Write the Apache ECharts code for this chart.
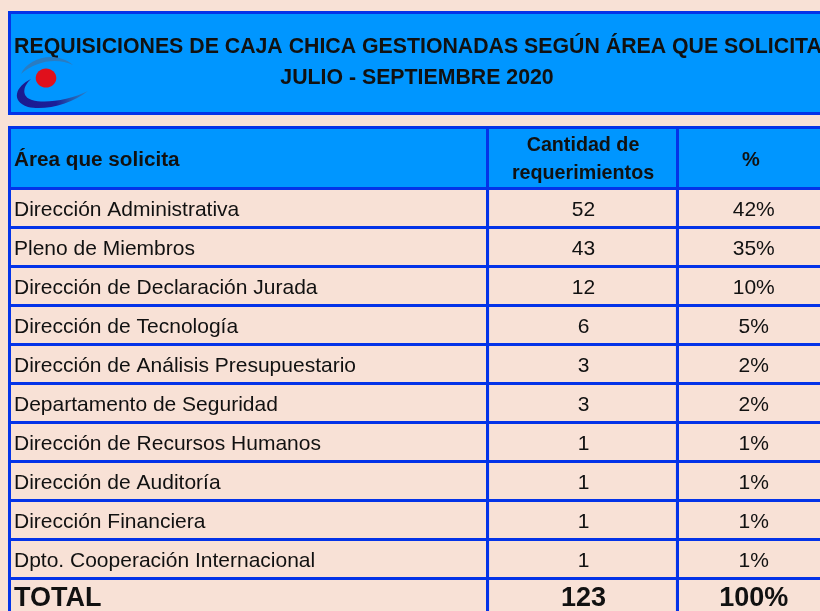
<!DOCTYPE html>
<html>
<head>
<meta charset="utf-8">
<script src="https://cdn.jsdelivr.net/npm/echarts@6/dist/echarts.min.js"></script>
<style>html,body{margin:0;padding:0;background:#F8E1D6;overflow:hidden;width:820px;height:611px;}#c{width:832px;height:626px;}</style>
</head>
<body>
<div id="c"></div>
<script>
// ---- data ----
const titleLines = ['REQUISICIONES DE CAJA CHICA GESTIONADAS SEGÚN ÁREA QUE SOLICITA', 'JULIO - SEPTIEMBRE 2020'];
const headers = ['Área que solicita', 'Cantidad de\nrequerimientos', '%'];
const areas = ['Dirección Administrativa', 'Pleno de Miembros', 'Dirección de Declaración Jurada', 'Dirección de Tecnología', 'Dirección de Análisis Presupuestario', 'Departamento de Seguridad', 'Dirección de Recursos Humanos', 'Dirección de Auditoría', 'Dirección Financiera', 'Dpto. Cooperación Internacional'];
const cantidad = [52, 43, 12, 6, 3, 3, 1, 1, 1, 1];
const porcentaje = [42, 35, 10, 5, 2, 2, 1, 1, 1, 1];
const totalLabel = 'TOTAL';
const totalCantidad = 123;
const totalPorcentaje = 100;

// ---- styles / layout ----
const BG = '#F8E1D6', FILL = '#0096FF', BORDER = '#0433E8', INK = '#111111';
const FONT = 'Liberation Sans';
const colEdges = [0, 58.69, 82.01, 100];

const rows = areas.concat([totalLabel]);
const countTxt = cantidad.map(String).concat([String(totalCantidad)]);
const pctTxt = porcentaje.map(v => v + '%').concat([totalPorcentaje + '%']);

const chart = echarts.init(document.getElementById('c'), null, {renderer: 'canvas'});

function txt(text, x, y, size, weight, align) {
  return {type: 'text', style: {text: text, x: x, y: y, fill: INK, fontFamily: FONT, fontSize: size, fontWeight: weight, textAlign: align, textVerticalAlign: 'middle'}};
}

function renderTable(params, api) {
  const i = params.dataIndex;
  const isTotal = i === rows.length - 1;
  const c = api.coord([0, i]);
  const h = api.size([0, 1])[1];
  const yTop = c[1] - h / 2;
  const xs = colEdges.map(e => api.coord([e, i])[0]);
  const children = [];
  for (let k = 0; k < 3; k++) {
    children.push({type: 'rect', shape: {x: xs[k], y: yTop, width: xs[k + 1] - xs[k], height: h},
      style: {fill: 'none', stroke: BORDER, lineWidth: 3}});
  }
  const fs = isTotal ? 27 : 21;
  const fw = isTotal ? 'bold' : 'normal';
  const ty = c[1] + (isTotal ? 1 : 2);
  children.push(txt(rows[i], xs[0] + 4.5, ty, fs, fw, 'left'));
  children.push(txt(countTxt[i], (xs[1] + xs[2]) / 2 + 1, ty, fs, fw, 'center'));
  children.push(txt(pctTxt[i], (xs[2] + xs[3]) / 2 + 3, ty, fs, fw, 'center'));
  return {type: 'group', children: children};
}

function renderLogo() {
  return {type: 'group', children: [
    {type: 'path', shape: {pathData: 'M 21 74 C 28 58, 55 50, 73 65 C 57 57, 35 61, 21 74 Z'}, style: {fill: '#2A7CC2'}},
    {type: 'path', shape: {pathData: 'M 31 79 C 16 86, 10 101, 28 107 C 45 111, 72 104, 88 91 C 70 100, 45 104, 32 100 C 22 97, 22 87, 31 79 Z'},
      style: {fill: {type: 'linear', x: 0, y: 0, x2: 1, y2: 0, colorStops: [{offset: 0, color: '#1B1A8F'}, {offset: 0.55, color: '#1C1F98'}, {offset: 0.75, color: '#2456AE'}, {offset: 1, color: '#2C80C6'}]}}},
    {type: 'ellipse', shape: {cx: 46, cy: 78, rx: 10.3, ry: 9.6}, style: {fill: '#E0101C'}}
  ]};
}

const option = {
  backgroundColor: BG,
  animation: false,
  grid: {left: 9.5, top: 188.5, width: 814.5, height: 429},
  xAxis: {type: 'value', min: 0, max: 100, show: false},
  yAxis: {type: 'category', data: rows, inverse: true, show: false},
  graphic: [
    // title banner
    {type: 'rect', z: 1, shape: {x: 9.5, y: 12.5, width: 814.5, height: 101}, style: {fill: FILL, stroke: BORDER, lineWidth: 3}},
    Object.assign(txt(titleLines[0], 418, 47, 21.3, 'bold', 'center'), {z: 2}),
    Object.assign(txt(titleLines[1], 417, 78.5, 21.3, 'bold', 'center'), {z: 2}),
    // header row
    {type: 'rect', z: 1, shape: {x: 9.5, y: 127.5, width: 814.5, height: 61}, style: {fill: FILL, stroke: BORDER, lineWidth: 3}},
    {type: 'line', z: 2, shape: {x1: 487.5, y1: 127.5, x2: 487.5, y2: 188.5}, style: {stroke: BORDER, lineWidth: 3}},
    {type: 'line', z: 2, shape: {x1: 677.5, y1: 127.5, x2: 677.5, y2: 188.5}, style: {stroke: BORDER, lineWidth: 3}},
    Object.assign(txt(headers[0], 14, 160, 20.7, 'bold', 'left'), {z: 2}),
    {type: 'text', z: 2, style: {text: headers[1], x: 583, y: 160, fill: INK, fontFamily: FONT, fontSize: 19.7, fontWeight: 'bold', lineHeight: 28, textAlign: 'center', textVerticalAlign: 'middle'}},
    Object.assign(txt(headers[2], 751, 160, 20, 'bold', 'center'), {z: 2})
  ],
  series: [{
    type: 'custom',
    renderItem: renderTable,
    clip: false,
    encode: {x: 0, y: 1},
    data: rows.map((r, i) => [0, i])
  }, {
    type: 'custom',
    renderItem: renderLogo,
    clip: false,
    z: 10,
    encode: {x: 0, y: 1},
    data: [[0, 0]]
  }]
};
chart.setOption(option);
</script>
</body>
</html>
